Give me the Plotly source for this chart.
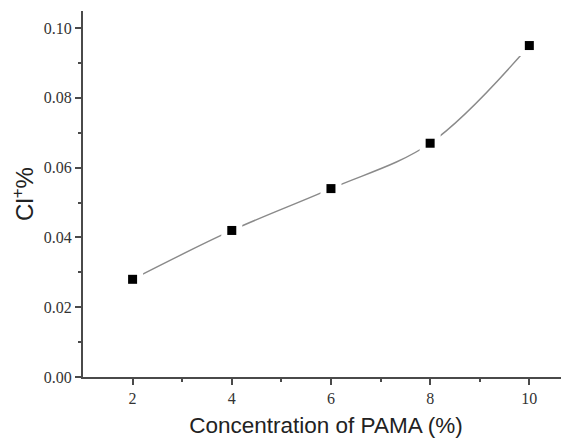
import plotly.graph_objects as go

conc = [2, 4, 6, 8, 10]
cl = [0.028, 0.042, 0.054, 0.067, 0.095]
x_ticks = [2, 4, 6, 8, 10]
y_ticks = [0.00, 0.02, 0.04, 0.06, 0.08, 0.10]
y_tick_text = ["0.00", "0.02", "0.04", "0.06", "0.08", "0.10"]

fig = go.Figure()
fig.add_trace(go.Scatter(x=conc, y=cl, mode="lines",
                         line=dict(color="#8a8a8a", width=1.4, shape="spline", smoothing=1.0),
                         hoverinfo="skip"))
fig.add_trace(go.Scatter(x=conc, y=cl, mode="markers",
                         marker=dict(symbol="square", size=21, color="white", line=dict(width=0))))
fig.add_trace(go.Scatter(x=conc, y=cl, mode="markers",
                         marker=dict(symbol="square", size=9, color="black", line=dict(width=0))))

axis_common = dict(showline=True, linecolor="#4a4a4a", linewidth=2, ticks="outside",
                   tickcolor="#4a4a4a", ticklen=6, tickwidth=1.5, showgrid=False, zeroline=False,
                   tickfont=dict(family="Liberation Serif", size=16, color="#333333"),
                   mirror=False, automargin=True)

# page body has an 8px margin, so the figure is placed at (8, 8)
fig.update_layout(
    width=561, height=430,
    margin=dict(l=75, r=0, t=3, b=61),
    paper_bgcolor="white", plot_bgcolor="white",
    showlegend=False,
    xaxis=dict(range=[1, 10.8], tickvals=x_ticks,
               minor=dict(tickvals=[3, 5, 7, 9], ticks="outside", ticklen=3, tickcolor="#4a4a4a"),
               title=dict(text="Concentration of PAMA (%)", standoff=11,
                          font=dict(family="Liberation Sans", size=22.5, color="#222222")),
               **axis_common),
    yaxis=dict(range=[0, 0.1049], tickvals=y_ticks, ticktext=y_tick_text,
               minor=dict(tickvals=[0.01, 0.03, 0.05, 0.07, 0.09], ticks="outside", ticklen=3, tickcolor="#4a4a4a"),
               title=dict(text="Cl<sup>+</sup>%", standoff=5,
                          font=dict(family="Liberation Sans", size=24, color="#222222")),
               **axis_common),
)

fig.write_html("out.html")
